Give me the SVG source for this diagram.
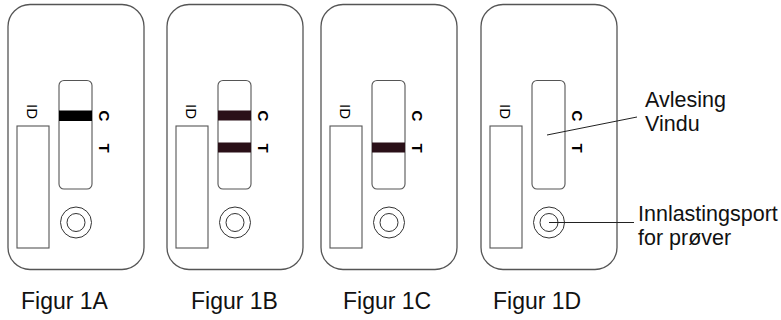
<svg xmlns="http://www.w3.org/2000/svg" width="781" height="320" viewBox="0 0 781 320">
  <defs>
    <style>
      .card { fill: #ffffff; stroke: #555555; stroke-width: 1.3; }
      .win { fill: #ffffff; stroke: #555555; stroke-width: 1.1; }
      .idbox { fill: #ffffff; stroke: #555555; stroke-width: 1.1; }
      .ring { fill: none; stroke: #333333; stroke-width: 1; }
      .mark { font-family: "Liberation Sans", Arial, sans-serif; font-weight: bold; font-size: 15px; fill: #000000; }
      .idt { font-family: "Liberation Sans", Arial, sans-serif; font-size: 15px; fill: #000000; }
      .cap { font-family: "Liberation Sans", Arial, sans-serif; font-size: 23px; fill: #111111; }
      .lbl { font-family: "Liberation Sans", Arial, sans-serif; font-size: 21.5px; fill: #111111; }
      .lead { stroke: #222222; stroke-width: 1; fill: none; }
      .bandK { fill: #000000; }
      .bandR { fill: #2a1018; }
    </style>
    <!-- one test cassette, drawn with its left edge at x=0 -->
    <g id="cassette">
      <rect class="card" x="0" y="4.5" width="136" height="265" rx="22" ry="22"/>
      <rect class="win" x="51" y="80.5" width="33" height="108.5" rx="5" ry="5"/>
      <rect class="idbox" x="9" y="126" width="32" height="122"/>
      <text class="idt" transform="translate(19 104) rotate(90)">ID</text>
      <text class="mark" transform="translate(90.5 110.5) rotate(90)">C</text>
      <text class="mark" transform="translate(90.5 143.5) rotate(90)">T</text>
      <circle class="ring" cx="68" cy="222.5" r="15.5"/>
      <circle class="ring" cx="68" cy="222.5" r="9"/>
    </g>
  </defs>

  <g id="figur-1a">
    <use href="#cassette" x="8"/>
    <rect class="bandK" x="59" y="110.5" width="33" height="10.5"/>
    <text class="cap" x="21" y="309">Figur 1A</text>
  </g>

  <g id="figur-1b">
    <use href="#cassette" x="167"/>
    <rect class="bandR" x="218" y="110.5" width="33" height="10"/>
    <rect class="bandR" x="218" y="142.5" width="33" height="10"/>
    <text class="cap" x="191" y="309">Figur 1B</text>
  </g>

  <g id="figur-1c">
    <use href="#cassette" x="321"/>
    <rect class="bandR" x="372" y="142.5" width="33" height="10"/>
    <text class="cap" x="343" y="309">Figur 1C</text>
  </g>

  <g id="figur-1d">
    <use href="#cassette" x="481"/>
    <text class="cap" x="493" y="309">Figur 1D</text>
  </g>

  <g id="labels">
    <text class="lbl" x="645" y="107">Avlesing</text>
    <text class="lbl" x="645" y="131">Vindu</text>
    <text class="lbl" x="638" y="221">Innlastingsport</text>
    <text class="lbl" x="638" y="245">for prøver</text>
  </g>

  <g id="connectors">
    <line class="lead" x1="547" y1="135" x2="637" y2="117"/>
    <line class="lead" x1="549" y1="222.5" x2="634" y2="222.5"/>
  </g>
</svg>
